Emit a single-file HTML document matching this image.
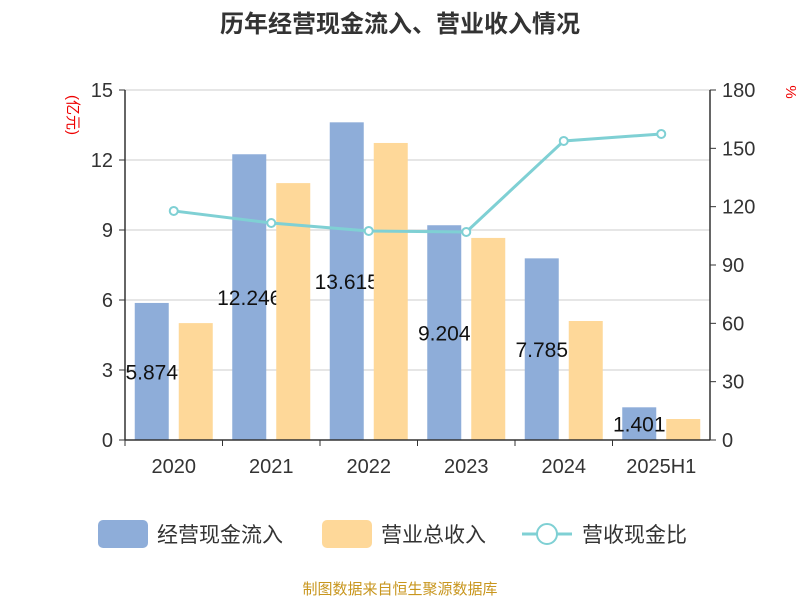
<!DOCTYPE html>
<html><head><meta charset="utf-8"><style>
body{margin:0;background:#fff;}
svg text{font-family:"Liberation Sans","Noto Sans CJK SC",sans-serif;}
</style></head><body>
<svg id="c" width="800" height="600" xmlns="http://www.w3.org/2000/svg">
<text x="400" y="32" text-anchor="middle" font-size="24" font-weight="bold" fill="#333">历年经营现金流入、营业收入情况</text>
<text x="68" y="115" font-size="15" fill="#e00" text-anchor="middle" transform="rotate(90 68 115)">(亿元)</text>
<text x="786" y="92" font-size="15" fill="#e00" text-anchor="middle" transform="rotate(90 786 92)">%</text>
<g id="grid"></g><g id="bars"></g><g id="line"></g><g id="axes"></g>
<g>
<rect x="98" y="520" width="50" height="28" rx="5" fill="#8eadd9"/>
<text x="157" y="542" font-size="21" fill="#333">经营现金流入</text>
<rect x="322" y="520" width="50" height="28" rx="5" fill="#fed899"/>
<text x="381" y="542" font-size="21" fill="#333">营业总收入</text>
<line x1="522" y1="534" x2="572" y2="534" stroke="#7fd0d4" stroke-width="3"/>
<circle cx="547" cy="534" r="10" fill="#fff" stroke="#7fd0d4" stroke-width="2"/>
<text x="582" y="542" font-size="21" fill="#333">营收现金比</text>
</g>
<text x="400" y="594" text-anchor="middle" font-size="15" fill="#c8961e">制图数据来自恒生聚源数据库</text>
</svg>
<script>
const categories=["2020","2021","2022","2023","2024","2025H1"];
const cashInflow=[5.874,12.246,13.615,9.204,7.785,1.401];
const revenue=[5.01,11.01,12.73,8.66,5.1,0.9];
const ratio=[117.8,111.6,107.5,107,153.8,157.4];
const leftTicks=[0,3,6,9,12,15];
const rightTicks=[0,30,60,90,120,150,180];
const NS="http://www.w3.org/2000/svg";
const L=125,R=710,T=90,B=440;
const yL=v=>B-(v/15)*(B-T);
const yR=v=>B-(v/180)*(B-T);
const bw=(R-L)/categories.length;
const xc=i=>L+bw*(i+0.5);
function mk(p,tag,a,txt){const e=document.createElementNS(NS,tag);for(const k in a)e.setAttribute(k,a[k]);if(txt!==undefined)e.textContent=txt;p.appendChild(e);return e;}
const grid=document.getElementById('grid'),bars=document.getElementById('bars'),line=document.getElementById('line'),axes=document.getElementById('axes');
leftTicks.forEach(t=>{
 const g=mk(grid,'line',{x1:L,x2:R,y1:yL(t),y2:yL(t),stroke:'#ccc','stroke-width':1});
 
 
 const tk=mk(axes,'line',{x1:L-6,x2:L,y1:yL(t),y2:yL(t),stroke:'#333'});
 
 
 const tx=mk(axes,'text',{x:L-12,y:yL(t)+7,'text-anchor':'end','font-size':20,fill:'#333'},String(t));
 
 
});
rightTicks.forEach(t=>{
 const tk=mk(axes,'line',{x1:R,x2:R+6,y1:yR(t),y2:yR(t),stroke:'#333'});
 
 
 const tx=mk(axes,'text',{x:R+12,y:yR(t)+7,'font-size':20,fill:'#333'},String(t));
 
 
});
const ax=[[L,T,L,B],[R,T,R,B],[L,B,R,B]];
ax.forEach(a=>{const e=mk(axes,'line',{x1:a[0],y1:a[1],x2:a[2],y2:a[3],stroke:'#333','stroke-width':1.5});
 
 });
categories.forEach((c,i)=>{
 const tk=mk(axes,'line',{x1:L+bw*i,x2:L+bw*i,y1:B,y2:B+6,stroke:'#333'});
 
 
 const tx=mk(axes,'text',{x:xc(i),y:B+33,'text-anchor':'middle','font-size':20,fill:'#333'},c);
 
 
});
const bwid=34;
categories.forEach((c,i)=>{
 const x1=xc(i)-bwid-5;
 const b=mk(bars,'rect',{x:x1,y:yL(cashInflow[i]),width:bwid,height:B-yL(cashInflow[i]),fill:'#8eadd9'});
 
 
 const lb=mk(bars,'text',{x:x1+bwid/2,y:(yL(cashInflow[i])+B)/2+8,'text-anchor':'middle','font-size':21,fill:'#111'},cashInflow[i].toFixed(3));
 
 
});
categories.forEach((c,i)=>{
 const b=mk(bars,'rect',{x:xc(i)+5,y:yL(revenue[i]),width:bwid,height:B-yL(revenue[i]),fill:'#fed899'});
 
 
});
const pts=ratio.map((v,i)=>xc(i)+','+yR(v)).join(' ');
const pl=mk(line,'polyline',{points:pts,fill:'none',stroke:'#7fd0d4','stroke-width':3});


ratio.forEach((v,i)=>{
 const p=mk(line,'circle',{cx:xc(i),cy:yR(v),r:4,fill:'#fff',stroke:'#7fd0d4','stroke-width':2});
 
 
});
</script>
</body></html>
